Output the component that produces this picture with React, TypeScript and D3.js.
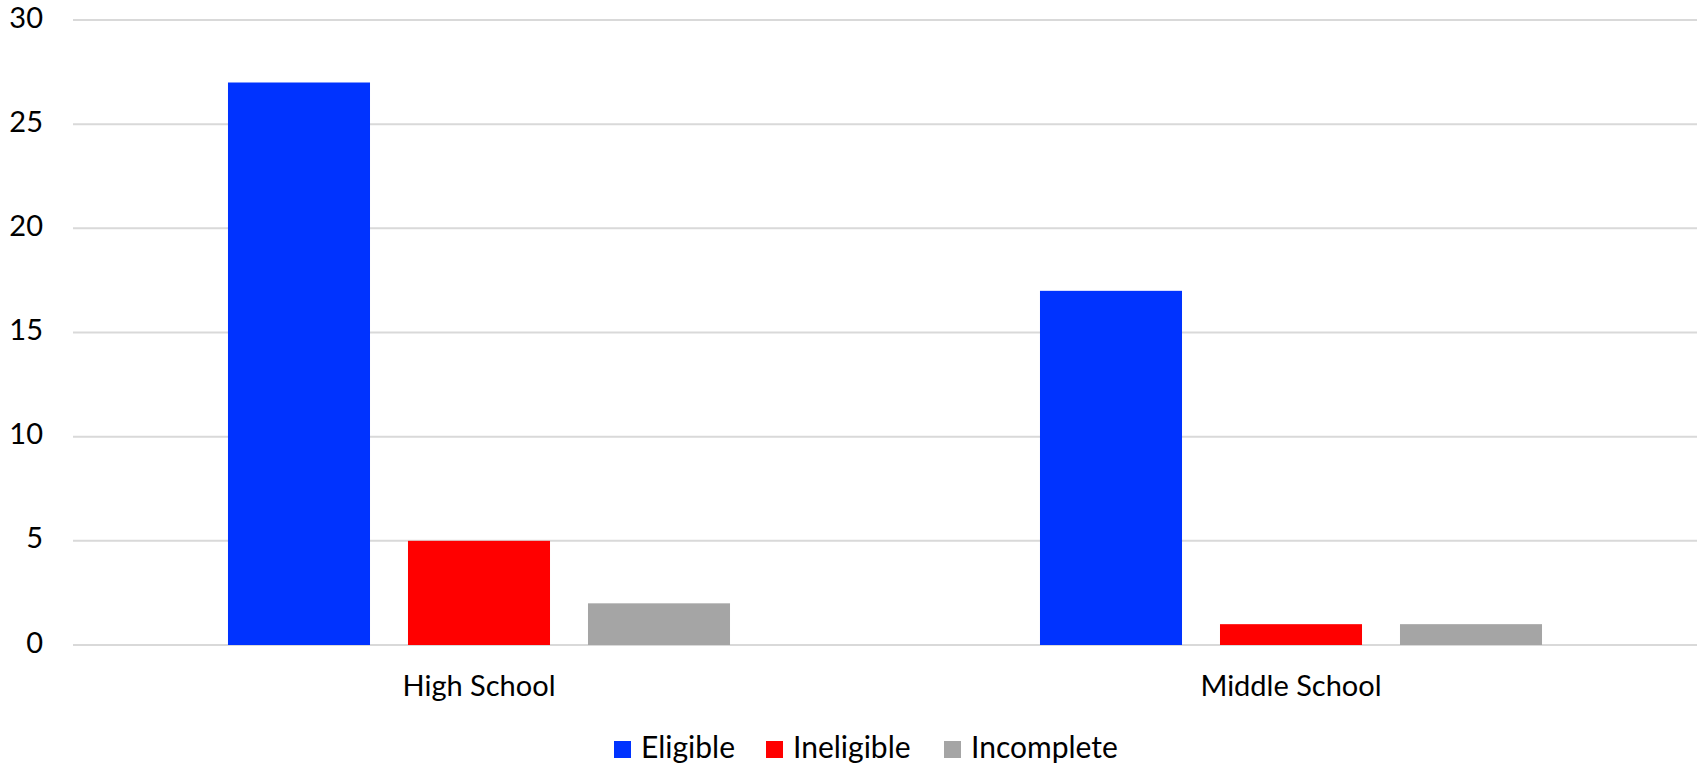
import React from 'react';
import * as d3 from 'd3';

const categories = ['High School', 'Middle School'];
const seriesNames = ['Eligible', 'Ineligible', 'Incomplete'];
const eligible = [27, 17];
const ineligible = [5, 1];
const incomplete = [2, 1];
const yTicks = [0, 5, 10, 15, 20, 25, 30];

const seriesValues = [eligible, ineligible, incomplete];
const colors = ['#0033FF', '#FF0000', '#A5A5A5'];

const width = 1699;
const height = 766;
const margin = { top: 20, right: 2, bottom: 121, left: 73 };
const font = 'Lato, "Open Sans", sans-serif';

const App = () => {
  const x0 = d3
    .scaleBand()
    .domain(categories)
    .range([margin.left, width - margin.right])
    .padding(0);

  const x1 = d3
    .scaleBand()
    .domain(seriesNames)
    .range([0, x0.bandwidth()])
    .paddingInner(0.211)
    .paddingOuter(0.861);

  const y = d3
    .scaleLinear()
    .domain([0, 30])
    .range([height - margin.bottom, margin.top]);

  // legend layout: distance from one swatch to the next
  const legendSteps = [152, 178, 175];
  const legendTotal = d3.sum(legendSteps);
  let lx = width / 2 - legendTotal / 2 + 17;
  const legendItems = seriesNames.map((name, i) => {
    const item = { name, color: colors[i], x: lx };
    lx += legendSteps[i];
    return item;
  });

  return (
    <svg
      width={width}
      height={height}
      style={{ position: 'absolute', left: 0, top: 0, background: '#fff' }}
    >
      {/* gridlines */}
      <g>
        {yTicks.map((t) => (
          <line
            key={t}
            x1={margin.left}
            x2={width - margin.right}
            y1={y(t)}
            y2={y(t)}
            stroke="#D9D9D9"
            strokeWidth={2}
          />
        ))}
      </g>
      {/* y tick labels */}
      <g fontFamily={font} fontSize={29} fill="#000" textAnchor="end">
        {yTicks.map((t) => (
          <text key={t} x={43} y={y(t) - 2.5} dy="0.35em">
            {t}
          </text>
        ))}
      </g>
      {/* bars */}
      <g>
        {categories.map((c, ci) => (
          <g key={c} transform={`translate(${x0(c)},0)`}>
            {seriesNames.map((s, si) => (
              <rect
                key={s}
                x={x1(s)}
                y={y(seriesValues[si][ci])}
                width={x1.bandwidth()}
                height={y(0) - y(seriesValues[si][ci])}
                fill={colors[si]}
              />
            ))}
          </g>
        ))}
      </g>
      {/* x labels */}
      <g fontFamily={font} fontSize={29} fill="#000" textAnchor="middle">
        {categories.map((c) => (
          <text key={c} x={(x0(c) as number) + x0.bandwidth() / 2} y={696}>
            {c}
          </text>
        ))}
      </g>
      {/* legend */}
      <g fontFamily={font} fontSize={30} fill="#000">
        {legendItems.map((it) => (
          <g key={it.name}>
            <rect x={it.x} y={741} width={17} height={17} fill={it.color} />
            <text x={it.x + 27} y={758}>
              {it.name}
            </text>
          </g>
        ))}
      </g>
    </svg>
  );
};

export default App;
